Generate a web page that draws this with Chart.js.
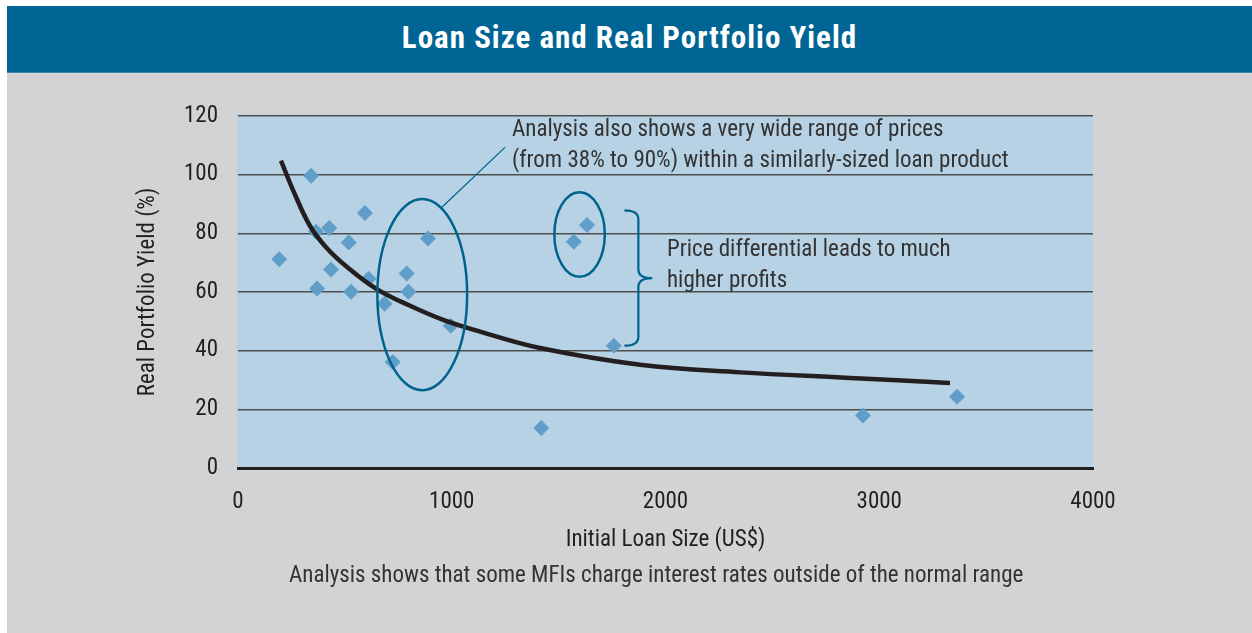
<!DOCTYPE html>
<html>
<head>
<meta charset="utf-8">
<title>Loan Size and Real Portfolio Yield</title>
<script src="https://cdn.jsdelivr.net/npm/chart.js"></script>
<style>
  html, body { margin: 0; padding: 0; background: #fff; }
  body { width: 1252px; height: 633px; position: relative; overflow: hidden; font-family: "Roboto Condensed", "Liberation Sans", sans-serif; }
  #panel { position: absolute; left: 7px; top: 6px; width: 1245px; height: 627px; background: #d1d3d4; }
  #head { position: absolute; left: 7px; top: 6px; width: 1245px; height: 66px; background: #006595; border-bottom: 1px solid #3a86b0;
          color: #fff; font-weight: bold; font-size: 31px; letter-spacing: 1px; text-align: center; line-height: 64px; }
  #chart { position: absolute; left: 0; top: 73px; }
  #note { position: absolute; left: 289px; top: 561px; font-size: 23px; line-height: 28px; color: #333; white-space: nowrap; }
</style>
</head>
<body>
<div id="panel"></div>
<div id="head">Loan Size and Real Portfolio Yield</div>
<canvas id="chart" width="1252" height="560"></canvas>
<div id="note">Analysis shows that some MFIs charge interest rates outside of the normal range</div>
<script>
// MFI data points: initial loan size (US$) vs real portfolio yield (%)
var loanSize = [193, 342, 365, 427, 594, 518, 435, 370, 529, 611, 789, 797, 686, 889, 995, 724, 1571, 1633, 1758, 1419, 2924, 3364];
var yieldPct = [71.2, 99.6, 80.5, 81.8, 86.9, 76.9, 67.7, 61.2, 60.1, 64.5, 66.3, 60.1, 56.0, 78.2, 48.5, 36.1, 77.1, 82.8, 41.7, 13.6, 17.9, 24.3];

// trend line
var trendX = [201, 259, 337, 415, 509, 649, 805, 960, 1132, 1413, 1881, 2349, 2840, 3331];
var trendY = [104.8, 94.5, 82.5, 75.0, 68.6, 61.0, 55.3, 50.5, 46.5, 40.9, 35.2, 32.6, 30.8, 29.0];

var xTicks = [0, 1000, 2000, 3000, 4000];
var yTicks = [0, 20, 40, 60, 80, 100, 120];

var FONT = '"Roboto Condensed", "Liberation Sans", sans-serif';
var INK = '#231f20';
var CALLOUT = '#00628f';

var points = loanSize.map(function (v, i) { return {x: v, y: yieldPct[i]}; });
var trend = trendX.map(function (v, i) { return {x: v, y: trendY[i]}; });

// light blue plot background
var plotBg = {
	id: 'plotBg',
	beforeDraw: function (chart) {
		var a = chart.chartArea, ctx = chart.ctx;
		ctx.save();
		ctx.fillStyle = '#b7d2e4';
		ctx.fillRect(a.left - 1, a.top, a.right - a.left + 1, a.bottom - a.top);
		ctx.restore();
	}
};

// ellipses, brace and the notes
var callouts = {
	id: 'callouts',
	afterDatasetsDraw: function (chart) {
		var ctx = chart.ctx;
		var xs = chart.scales.x, ys = chart.scales.y;
		var px = function (v) { return xs.getPixelForValue(v); };
		var py = function (v) { return ys.getPixelForValue(v); };

		ctx.save();
		ctx.strokeStyle = CALLOUT;
		ctx.lineWidth = 2.5;

		// wide ellipse round the ~800 loans
		ctx.beginPath();
		ctx.ellipse(px(862), py(59.1), px(862 + 210) - px(862), py(59.1) - py(59.1 + 32.6), 0, 0, Math.PI * 2);
		ctx.stroke();

		// small ellipse round the two high ones
		ctx.beginPath();
		ctx.ellipse(px(1598), py(79.6), px(1598 + 118) - px(1598), py(79.6) - py(79.6 + 14.4), 0, 0, Math.PI * 2);
		ctx.stroke();

		// pointer to the note
		ctx.lineWidth = 1.2;
		ctx.beginPath();
		ctx.moveTo(px(954), py(88.9));
		ctx.lineTo(px(1250), py(109.4));
		ctx.stroke();

		// brace
		var xl = px(1808), xm = px(1873), xt = px(1938);
		var yt = py(87.8), yb = py(41.7), ym = py(64.7), r = 9;
		ctx.lineWidth = 2.2;
		ctx.beginPath();
		ctx.moveTo(xl, yt);
		ctx.quadraticCurveTo(xm, yt, xm, yt + r);
		ctx.lineTo(xm, ym - r);
		ctx.quadraticCurveTo(xm, ym, xt, ym);
		ctx.quadraticCurveTo(xm, ym, xm, ym + r);
		ctx.lineTo(xm, yb - r);
		ctx.quadraticCurveTo(xm, yb, xl, yb);
		ctx.stroke();

		// notes
		ctx.fillStyle = '#333';
		ctx.font = '23px ' + FONT;
		ctx.textAlign = 'left';
		ctx.textBaseline = 'middle';
		ctx.fillText('Analysis also shows a very wide range of prices', px(1282), py(115.3));
		ctx.fillText('(from 38% to 90%) within a similarly-sized loan product', px(1282), py(104.7));
		ctx.fillText('Price differential leads to much', px(2007), py(74.1));
		ctx.fillText('higher profits', px(2007), py(63.6));
		ctx.restore();
	}
};

var context = document.getElementById('chart').getContext('2d');

var myChart = new Chart(context, {
	data: {
		datasets: [{
			type: 'line',
			data: trend,
			borderColor: INK,
			borderWidth: 4.5,
			pointRadius: 0,
			tension: 0.4,
			order: 0
		}, {
			type: 'scatter',
			data: points,
			backgroundColor: '#5e9ec8',
			borderWidth: 0,
			pointStyle: 'rectRot',
			pointRadius: 8,
			order: 1
		}]
	},
	options: {
		responsive: false,
		animation: false,
		layout: {
			padding: {top: 43, right: 159, left: 134, bottom: 75}
		},
		plugins: {
			legend: {display: false},
			tooltip: {enabled: false}
		},
		scales: {
			x: {
				type: 'linear',
				min: 0,
				max: 4000,
				afterBuildTicks: function (scale) {
					scale.ticks = xTicks.map(function (v) { return {value: v}; });
				},
				afterFit: function (scale) { scale.height = 90; },
				grid: {display: false, drawTicks: false},
				border: {display: true, color: INK, width: 3},
				ticks: {
					color: INK, padding: 20, maxRotation: 0, font: {family: FONT, size: 23},
					callback: function (v) { return String(v); }
				},
				title: {
					display: true,
					text: 'Initial Loan Size (US$)',
					color: INK,
					font: {family: FONT, size: 23},
					padding: {top: 0, bottom: 4}
				}
			},
			y: {
				type: 'linear',
				min: 0,
				max: 120,
				afterBuildTicks: function (scale) {
					scale.ticks = yTicks.map(function (v) { return {value: v}; });
				},
				afterFit: function (scale) { scale.width = 104; },
				grid: {color: '#4d4d4d', lineWidth: 1.5, drawTicks: false},
				border: {display: false},
				ticks: {color: INK, padding: 20, font: {family: FONT, size: 23}},
				title: {
					display: true,
					text: 'Real Portfolio Yield (%)',
					color: INK,
					font: {family: FONT, size: 23},
					padding: {top: 0, bottom: 0}
				}
			}
		}
	},
	plugins: [plotBg, callouts]
});
</script>
</body>
</html>
